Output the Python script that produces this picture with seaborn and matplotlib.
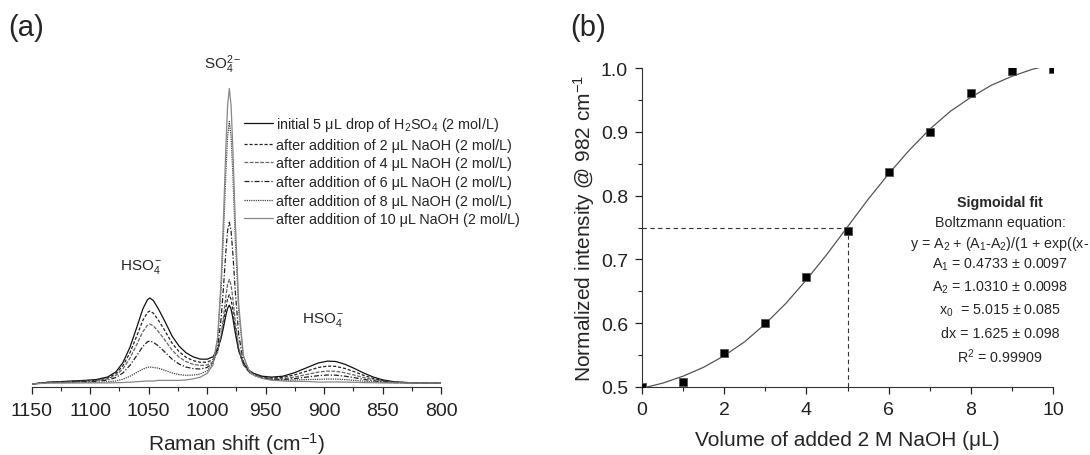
import numpy as np
import pandas as pd
import seaborn as sns
import matplotlib.pyplot as plt
from matplotlib.ticker import MultipleLocator

sns.set_style('ticks')
plt.rcParams['font.family'] = ['Liberation Sans', 'DejaVu Sans']
plt.rcParams['mathtext.fontset'] = 'custom'
plt.rcParams['mathtext.rm'] = 'Liberation Sans'
plt.rcParams['mathtext.it'] = 'Liberation Sans:italic'
plt.rcParams['mathtext.bf'] = 'Liberation Sans:bold'

# ---- panel (a): Raman spectra (intensity in arbitrary units)
raman_shift = [1150, 1135, 1120, 1105, 1095, 1085, 1078, 1072, 1066, 1060, 1055, 1051, 1049,
               1046, 1042, 1036, 1030, 1024, 1018, 1012, 1006, 1000, 995, 991, 988, 986, 984,
               982.5, 981, 979.5, 978, 976, 973, 969, 964, 960, 953, 945, 935, 925, 915, 905,
               897, 890, 882, 874, 866, 858, 850, 840, 825, 810, 800]

int_0uL = [3, 4.9, 5.7, 6.6, 7.4, 10.0, 15.1, 24.4, 39.7, 60.1, 78.0, 87.3, 89.0,
           86.5, 78.8, 65.4, 51.0, 40.9, 34.2, 30.2, 27.9, 27.8, 30.2, 37.8, 49.1, 59.6, 71.7,
           78.7, 81.8, 77.9, 69.1, 54.5, 36.3, 23.6, 16.5, 13.5, 10.8, 9.9, 10.8, 14.4, 19.2, 24.0,
           25.9, 25.5, 22.7, 18.5, 13.9, 10.0, 7.2, 5.2, 4.2, 4, 4]
int_2uL = [3, 4.7, 5.4, 6.2, 6.9, 9.0, 13.4, 21.3, 34.2, 51.5, 66.6, 74.6, 76.0,
           73.8, 67.4, 56.1, 43.9, 35.4, 29.7, 26.4, 24.7, 24.8, 27.5, 36.0, 50.0, 63.5, 79.1,
           88.3, 92.2, 87.5, 76.9, 59.2, 37.3, 22.6, 15.5, 12.6, 10.0, 9.1, 9.6, 12.2, 15.8, 19.5,
           20.9, 20.6, 18.5, 15.2, 11.6, 8.6, 6.5, 5.0, 4.2, 4, 4]
int_4uL = [3, 4.6, 5.2, 5.8, 6.4, 8.1, 11.7, 18.2, 28.8, 42.9, 55.3, 61.8, 63.0,
           61.2, 55.9, 46.8, 36.9, 29.9, 25.4, 22.7, 21.5, 22.0, 25.2, 35.0, 52.6, 70.2, 90.4,
           102.5, 107.5, 101.9, 88.6, 66.7, 39.6, 22.1, 14.6, 11.8, 9.3, 8.3, 8.3, 10.0, 12.5, 14.9,
           15.9, 15.7, 14.2, 11.9, 9.4, 7.3, 5.8, 4.7, 4.1, 4, 4]
int_6uL = [3, 4.4, 4.8, 5.3, 5.7, 6.9, 9.5, 14.1, 21.6, 31.7, 40.5, 45.2, 46.0,
           44.7, 41.4, 34.8, 27.9, 23.0, 19.9, 18.4, 18.0, 19.5, 24.3, 39.4, 68.9, 99.7, 135.0,
           156.2, 164.8, 155.7, 133.7, 97.2, 52.6, 24.8, 14.9, 11.8, 9.1, 7.8, 7.5, 8.4, 9.9, 11.3,
           12.0, 11.8, 10.8, 9.3, 7.6, 6.2, 5.2, 4.4, 4.1, 4, 4]
int_8uL = [3, 4.2, 4.3, 4.5, 4.6, 5.1, 6.1, 7.8, 10.7, 14.6, 17.9, 19.7, 20.0,
           19.5, 18.9, 16.6, 14.1, 12.4, 11.7, 11.9, 13.0, 16.1, 23.7, 48.1, 98.4, 152.2, 213.4,
           250.6, 265.5, 250.4, 213.0, 151.2, 76.0, 30.3, 15.9, 12.2, 9.0, 7.3, 6.7, 6.9, 7.5, 7.6,
           8.0, 7.9, 7.4, 6.6, 5.8, 5.1, 4.6, 4.2, 4, 4, 4]
int_10uL = [3, 4.0, 4.0, 4.1, 4.1, 4.1, 4.3, 4.5, 4.8, 5.3, 5.7, 6.0, 6.0,
            5.9, 6.6, 6.6, 6.6, 6.6, 7.1, 8.1, 9.8, 13.6, 22.1, 49.6, 106.9, 168.7, 238.9,
            281.5, 298.6, 281.4, 238.8, 168.6, 82.9, 31.3, 15.7, 11.8, 8.6, 6.8, 6.0, 5.6, 5.6, 4.9,
            5.0, 5.0, 4.9, 4.7, 4.4, 4.3, 4.1, 4.1, 4, 4, 4]

series_labels = ['initial 5 \u03bcL drop of H$_2$SO$_4$ (2 mol/L)',
                 'after addition of 2 \u03bcL NaOH (2 mol/L)',
                 'after addition of 4 \u03bcL NaOH (2 mol/L)',
                 'after addition of 6 \u03bcL NaOH (2 mol/L)',
                 'after addition of 8 \u03bcL NaOH (2 mol/L)',
                 'after addition of 10 \u03bcL NaOH (2 mol/L)']

# ---- panel (b): titration points and Boltzmann fit
naoh_volume = [0, 1, 2, 3, 4, 5, 6, 7, 8, 9, 10]
norm_intensity = [0.500, 0.508, 0.553, 0.600, 0.672, 0.744, 0.837, 0.900, 0.961, 0.995, 0.998]
fit_x = [0, 0.5, 1, 1.5, 2, 2.5, 3, 3.5, 4, 4.5, 5, 5.5, 6, 6.5, 7, 7.5, 8, 8.5, 9, 9.5, 10]
fit_y = [0.498, 0.506, 0.517, 0.531, 0.549, 0.571, 0.599, 0.631, 0.668, 0.708, 0.751,
         0.794, 0.834, 0.871, 0.904, 0.932, 0.954, 0.973, 0.987, 0.998, 1.006]

fit_text = ['Boltzmann equation:',
            'y = A$_2$ + (A$_1$-A$_2$)/(1 + exp((x-',
            'A$_1$ = 0.4733 \u00b1 0.0097',
            'A$_2$ = 1.0310 \u00b1 0.0098',
            'x$_0$  = 5.015 \u00b1 0.085',
            'dx = 1.625 \u00b1 0.098',
            'R$^2$ = 0.99909']

W, H = 1090, 456
fig = plt.figure(figsize=(W / 100, H / 100), dpi=100)
ax1 = fig.add_axes([31.7 / W, 68 / H, 409.3 / W, 308 / H])
ax2 = fig.add_axes([642 / W, 68 / H, 411 / W, 319 / H])

styles = [('#111111', '-'), ('#222222', (0, (2.5, 1.5))), ('#666666', (0, (3, 1.2))),
          ('#222222', (0, (4, 1.5, 1, 1.5))), ('#444444', (0, (1, 0.8))), ('#888888', '-')]
all_series = [int_0uL, int_2uL, int_4uL, int_6uL, int_8uL, int_10uL]
for vals, lab, (col, ls) in zip(all_series, series_labels, styles):
    sns.lineplot(x=raman_shift, y=vals, ax=ax1, color=col, linestyle=ls, lw=0.9,
                 label=lab, estimator=None, sort=False)

ax1.set_xlim(1150, 800)
ax1.set_ylim(0, 308)
ax1.xaxis.set_major_locator(MultipleLocator(50))
ax1.xaxis.set_minor_locator(MultipleLocator(25))
ax1.set_yticks([])
for s in ['top', 'right', 'left']:
    ax1.spines[s].set_visible(False)
ax1.spines['bottom'].set_color('#333333')
ax1.tick_params(axis='x', which='major', direction='out', length=5, width=0.9,
                labelsize=14, pad=6, colors='#222222')
ax1.tick_params(axis='x', which='minor', direction='out', length=3, width=0.8, colors='#222222')
ax1.set_xlabel('Raman shift (cm$^{-1}$)', fontsize=15, labelpad=8)
ax1.set_ylabel('')

leg = ax1.legend(loc='upper left', bbox_to_anchor=(237 / W, 1 - 109 / H),
                 bbox_transform=fig.transFigure, frameon=False, fontsize=10.4,
                 handlelength=2.0, handletextpad=0.2, labelspacing=0.32, borderpad=0)

ax1.text(1056.5, 121, 'HSO$_4^-$', fontsize=11, ha='center', va='center')
ax1.text(900.7, 68, 'HSO$_4^-$', fontsize=11, ha='center', va='center')
ax1.text(987, 323, 'SO$_4^{2-}$', fontsize=11, ha='center', va='center')

# panel (b)
sns.lineplot(x=fit_x, y=fit_y, ax=ax2, color='#555555', lw=0.9, estimator=None)
ax2.plot([0, 5], [0.75, 0.75], color='#333333', lw=0.8, ls=(0, (4, 3)))
ax2.plot([5, 5], [0.5, 0.75], color='#333333', lw=0.8, ls=(0, (4, 3)))
sns.scatterplot(x=naoh_volume, y=norm_intensity, ax=ax2, marker='s', s=34,
                color='black', edgecolor='#555555', linewidth=0.6, zorder=5)

ax2.set_xlim(0, 10)
ax2.set_ylim(0.5, 1.0)
ax2.xaxis.set_major_locator(MultipleLocator(2))
ax2.xaxis.set_minor_locator(MultipleLocator(1))
ax2.yaxis.set_major_locator(MultipleLocator(0.1))
ax2.yaxis.set_minor_locator(MultipleLocator(0.05))
ax2.yaxis.set_major_formatter(plt.FuncFormatter(lambda v, p: f'{v:.1f}'))
for s in ['top', 'right']:
    ax2.spines[s].set_visible(False)
for s in ['left', 'bottom']:
    ax2.spines[s].set_color('#333333')
ax2.tick_params(which='major', direction='out', length=5, width=0.9, labelsize=14,
                pad=5, colors='#222222')
ax2.tick_params(which='minor', direction='out', length=3, width=0.8, colors='#222222')
ax2.set_xlabel('Volume of added 2 M NaOH (\u03bcL)', fontsize=15, labelpad=9)
ax2.set_ylabel('Normalized intensity @ 982 cm$^{-1}$', fontsize=15, labelpad=3)

fig.text(1000 / W, 1 - 203 / H, 'Sigmoidal fit', fontsize=10.3, fontweight='bold',
         ha='center', va='center')
fit_rows_y = [223, 244, 265, 288, 311, 334, 357]
for txt, yy in zip(fit_text, fit_rows_y):
    if txt.startswith('y ='):
        fig.text(1089 / W, 1 - yy / H, txt, fontsize=10.3, ha='right', va='center')
    else:
        fig.text(1000 / W, 1 - yy / H, txt, fontsize=10.3, ha='center', va='center')

fig.text(8 / W, 1 - 28 / H, '(a)', fontsize=21, ha='left', va='center')
fig.text(570 / W, 1 - 28 / H, '(b)', fontsize=21, ha='left', va='center')

fig.savefig('out.png', dpi=100)
